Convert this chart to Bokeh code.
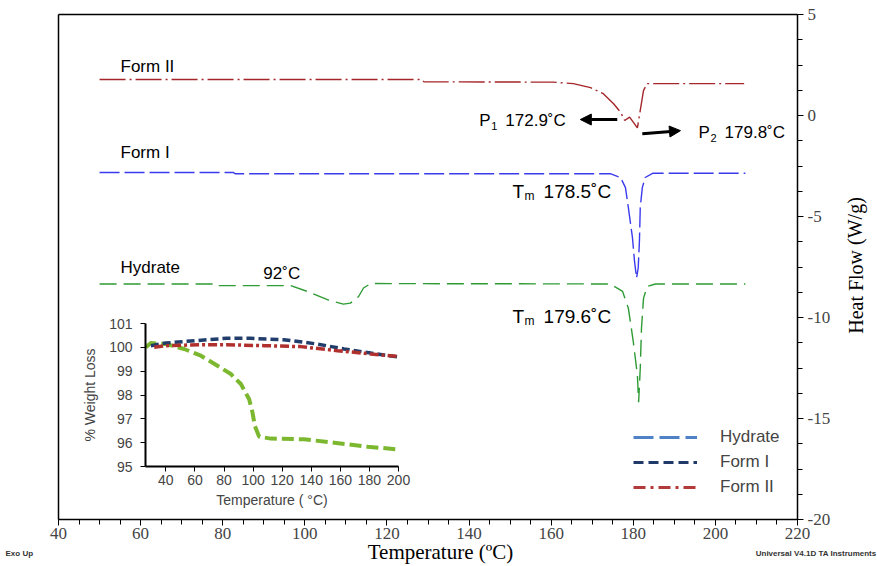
from bokeh.plotting import figure
from bokeh.models import (Range1d, LinearAxis, FixedTicker, SingleIntervalTicker,
                          Legend, LegendItem, Label, Arrow, NormalHead)
from bokeh.embed import file_html
from bokeh.resources import INLINE

# ---- DSC traces: temperature (°C) vs heat flow (W/g) ----
form2_temp = [50, 128.4, 129.0, 160.5, 165.4, 169.6, 172.7, 175.2, 176.9, 177.9,
              179.1, 180.0, 181.0, 181.7, 182.5, 183.4, 207.0]
form2_flow = [1.78, 1.78, 1.67, 1.65, 1.58, 1.38, 1.08, 0.58, 0.16, -0.25,
              -0.08, -0.33, -0.61, 0.25, 1.24, 1.58, 1.58]

form1_temp = [50, 82.6, 83.0, 174.4, 176.9, 178.1, 178.8, 179.8, 180.3, 180.8,
              181.2, 181.5, 181.7, 182.2, 182.9, 184.7, 207.3]
form1_flow = [-2.82, -2.82, -2.88, -2.88, -3.07, -3.57, -4.56, -6.05, -7.21, -8.04,
              -7.55, -6.22, -4.56, -3.57, -3.07, -2.86, -2.86]

hyd_temp = [50, 77.7, 78.0, 96.5, 100.6, 105.5, 109.4, 111.1, 113.1, 114.3, 116.0,
            174.4, 177.4, 178.8, 180.0, 181.0, 181.3, 181.7, 182.0, 182.5, 183.4,
            185.4, 207.3]
hyd_flow = [-8.34, -8.34, -8.42, -8.42, -8.71, -9.12, -9.34, -9.29, -8.96, -8.54, -8.32,
            -8.34, -8.71, -9.54, -11.19, -12.85, -14.2, -12.52, -10.53, -9.04, -8.46,
            -8.34, -8.34]

# ---- TGA inset: temperature (°C) vs weight (%) ----
tga_hyd_temp = [26.2, 29.7, 40, 52.6, 64.1, 75.5, 84.7, 91.6, 97.3, 99.6, 101.2,
                104.2, 112.2, 135.1, 155.8, 178.7, 199.3]
tga_hyd_wt = [100.0, 100.18, 100.14, 99.93, 99.65, 99.23, 98.88, 98.46, 97.82, 97.26,
              96.70, 96.25, 96.17, 96.14, 96.0, 95.83, 95.72]

tga_f1_temp = [29.7, 40, 60, 82, 98, 121, 144, 162.6, 181, 199]
tga_f1_wt = [100.07, 100.18, 100.28, 100.38, 100.38, 100.32, 100.14, 99.93, 99.76, 99.6]

tga_f2_temp = [32, 40, 64, 82, 107.6, 132.8, 158, 181, 199]
tga_f2_wt = [100.0, 100.07, 100.11, 100.11, 100.07, 100.03, 99.86, 99.72, 99.62]

# ---- axis ticks ----
temp_span = (40, 220)
flow_span = (-20, 5)
inset_temp_ticks = [40, 60, 80, 100, 120, 140, 160, 180, 200]
inset_wt_ticks = [95, 96, 97, 98, 99, 100, 101]
flow_tick_labels = {5: "5", 0: "0", -5: "-5", -10: "-10", -15: "-15", -20: "-20"}

legend_names = ["Hydrate", "Form I", "Form II"]

SANS = "Liberation Sans"
SERIF = "Liberation Serif"

# The plotting frame fills the whole canvas; the DSC box is placed inside it.
W, H = 877, 566
BL, BR, BT, BB = 58, 797, 14, 519          # DSC box edges on the canvas (px)
sx = (BR - BL) / (temp_span[1] - temp_span[0])
sy = (BB - BT) / (flow_span[1] - flow_span[0])
x0 = temp_span[0] - BL / sx
y1 = flow_span[1] + BT / sy

def px2x(px):
    return x0 + px / sx

def px2y(py):
    return y1 - py / sy

p = figure(width=W, height=H, x_range=Range1d(px2x(0), px2x(W)),
           y_range=Range1d(px2y(H), px2y(0)), x_axis_location=None,
           y_axis_location=None, output_backend="svg", toolbar_location=None,
           min_border=0)
p.xgrid.visible = False
p.ygrid.visible = False
p.outline_line_color = None
p.background_fill_color = "white"
p.border_fill_color = "white"

def frame_axis(side, at, bounds, ticker=None):
    ax = LinearAxis(fixed_location=at, bounds=bounds,
                    ticker=ticker if ticker is not None else FixedTicker(ticks=[]))
    ax.axis_line_color = "black"
    ax.axis_line_width = 1.5
    ax.major_tick_in = ax.minor_tick_in = 0
    ax.major_label_text_font = SERIF
    ax.major_label_text_font_size = "17px"
    if ticker is None:
        ax.major_tick_out = ax.minor_tick_out = 0
        ax.major_label_text_font_size = "0px"
    p.add_layout(ax, side)
    return ax

# bottom temperature axis
xa = frame_axis("below", flow_span[0], temp_span,
                SingleIntervalTicker(interval=20, num_minor_ticks=4))
xa.major_tick_out, xa.minor_tick_out = 6, 5
xa.major_label_standoff = 2

# right heat-flow axis
ya = frame_axis("right", temp_span[1], flow_span,
                SingleIntervalTicker(interval=5, num_minor_ticks=4))
ya.major_tick_out, ya.minor_tick_out = 6, 5
ya.major_label_standoff = 4
ya.major_label_overrides = flow_tick_labels

# plain box edges on the left and top
frame_axis("left", temp_span[0], flow_span)
frame_axis("above", flow_span[1], temp_span)

# DSC curves
p.line(form2_temp, form2_flow, line_color="#A3262A", line_width=1.4, line_dash="26 4 2 4")
p.line(form1_temp, form1_flow, line_color="#3B3BEE", line_width=1.4, line_dash="20 5")
p.line(hyd_temp, hyd_flow, line_color="#2F9B35", line_width=1.4, line_dash="17 7")

def label(x, y, text, size="17px", font=SANS, **kw):
    p.add_layout(Label(x=x, y=y, text=text, text_font=font, text_font_size=size,
                       text_baseline=kw.pop("baseline", "middle"),
                       text_align=kw.pop("align", "left"),
                       text_color=kw.pop("color", "black"), **kw))

def sub_label(x, y, base, sub, rest, sub_dx, rest_dx, size="17px", sub_size="11px"):
    label(x, y, base, size=size)
    label(x, y, sub, size=sub_size, x_offset=sub_dx, y_offset=-5)
    label(x, y, rest, size=size, x_offset=rest_dx)

label(55.1, 2.45, "Form II")
label(55.1, -1.85, "Form I")
label(55.1, -7.5, "Hydrate")
label(89.9, -7.8, "92˚C")
sub_label(142.5, -0.25, "P", "1", "172.9˚C", 12, 26)
sub_label(195.9, -0.85, "P", "2", "179.8˚C", 12, 26)
sub_label(150.6, -3.75, "T", "m", "178.5˚C", 12, 31, size="19px", sub_size="12px")
sub_label(150.6, -9.95, "T", "m", "179.6˚C", 12, 31, size="19px", sub_size="12px")

head = dict(size=11, fill_color="black", line_color="black")
p.add_layout(Arrow(end=NormalHead(**head), x_start=176.1, y_start=-0.2,
                   x_end=167.1, y_end=-0.2, line_width=3, line_color="black"))
p.add_layout(Arrow(end=NormalHead(**head), x_start=182.2, y_start=-0.9,
                   x_end=191.5, y_end=-0.75, line_width=3, line_color="black"))

# axis titles
label(px2x(440), px2y(551), "Temperature (ºC)", size="21px", font=SERIF, align="center")
label(px2x(855), px2y(265), "Heat Flow (W/g)", size="20px", font=SERIF, align="center",
      angle=1.5708)

# instrument footers
label(px2x(5), px2y(553), "Exo Up", size="8px", text_font_style="bold", color="#333333")
label(px2x(876), px2y(553), "Universal V4.1D TA Instruments", size="8px", align="right",
      text_font_style="bold", color="#333333")

# ---- TGA inset drawn on its own ranges ----
IL, IR, IT, IB = 145, 398, 323, 466          # inset box on the canvas (px)
t0, t1, w0, w1 = 26, 200, 95, 101
kx = (IR - IL) / (t1 - t0)
ky = (IB - IT) / (w1 - w0)
p.extra_x_ranges = {"ix": Range1d(t0 - IL / kx, t1 + (W - IR) / kx)}
p.extra_y_ranges = {"iy": Range1d(w0 - (H - IB) / ky, w1 + IT / ky)}

p.line(tga_hyd_temp, tga_hyd_wt, x_range_name="ix", y_range_name="iy",
       line_color="#7CB82F", line_width=4, line_dash="12 5")
p.line(tga_f1_temp, tga_f1_wt, x_range_name="ix", y_range_name="iy",
       line_color="#203D6B", line_width=3.5, line_dash="8 4")
p.line(tga_f2_temp, tga_f2_wt, x_range_name="ix", y_range_name="iy",
       line_color="#B0302E", line_width=3.5, line_dash="9 3 3 3")

def style_inset(ax):
    ax.axis_line_color = "black"
    ax.axis_line_width = 2
    ax.major_tick_out, ax.major_tick_in = 5, 0
    ax.minor_tick_out = 0
    ax.major_label_text_font = SANS
    ax.major_label_text_font_size = "14px"
    ax.axis_label_text_font = SANS
    ax.axis_label_text_font_size = "14px"
    ax.axis_label_text_font_style = "normal"

ix_axis = LinearAxis(x_range_name="ix", y_range_name="iy", fixed_location=w0,
                     bounds=(t0, t1), ticker=FixedTicker(ticks=inset_temp_ticks),
                     axis_label="Temperature ( °C)")
style_inset(ix_axis)
ix_axis.major_label_standoff = 3
ix_axis.axis_label_standoff = 4
p.add_layout(ix_axis, "below")

iy_axis = LinearAxis(x_range_name="ix", y_range_name="iy", fixed_location=t0,
                     bounds=(w0, w1), ticker=FixedTicker(ticks=inset_wt_ticks),
                     axis_label="% Weight Loss")
style_inset(iy_axis)
iy_axis.major_label_standoff = 8
iy_axis.axis_label_standoff = 8
p.add_layout(iy_axis, "left")

# ---- legend (line samples carry no data points) ----
nan = float("nan")
leg_styles = [("#4F81C7", "20 6"), ("#1F3A68", "10 5"), ("#B33A3A", "12 5 3 5")]
items = []
for name, (col, dash) in zip(legend_names, leg_styles):
    r = p.line([nan, nan], [nan, nan], line_color=col, line_width=3, line_dash=dash)
    items.append(LegendItem(label=name, renderers=[r]))
legend = Legend(items=items, location=(633, H - 497), background_fill_alpha=0,
                border_line_alpha=0, glyph_width=64, glyph_height=20, label_height=20,
                spacing=5, padding=0, margin=0, label_standoff=23,
                label_text_font=SANS, label_text_font_size="17px")
p.add_layout(legend)

open("out.html", "w").write(file_html(p, INLINE))
